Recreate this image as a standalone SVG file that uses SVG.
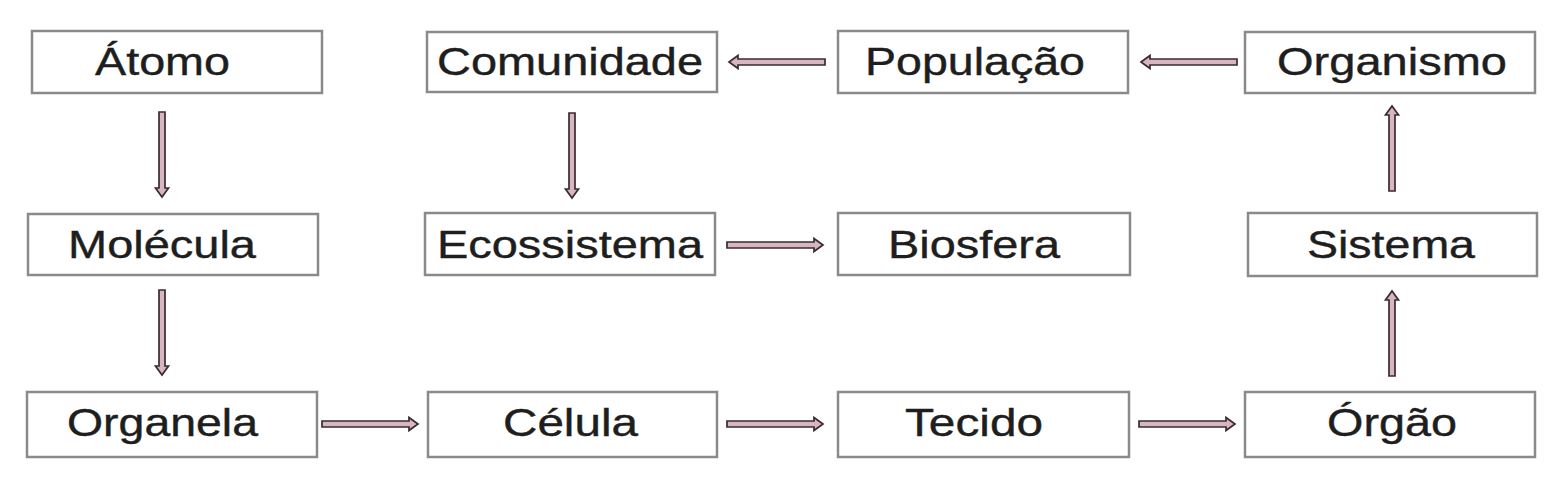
<svg xmlns="http://www.w3.org/2000/svg" xmlns:xlink="http://www.w3.org/1999/xlink" width="1563" height="486" viewBox="0 0 1563 486">
<style>
.box{fill:#ffffff;stroke:#8a8a8a;stroke-width:2.5}
.lbl{font-family:"Liberation Sans",Arial,sans-serif;font-size:38px;fill:#1e1e1e;stroke:#1e1e1e;stroke-width:0.4}
.arr{fill:#d8b6c0;stroke:#3a2b31;stroke-width:1.7;stroke-linejoin:miter}
</style>
<defs>
<path id="ha" d="M0,-3 L87,-3 L87,-6.5 L96,0 L87,6.5 L87,3 L0,3 Z"/>
<path id="va" d="M0,-3 L76,-3 L76,-6.5 L85,0 L76,6.5 L76,3 L0,3 Z"/>
</defs>
<rect width="1563" height="486" fill="#ffffff"/>
<g id="atomo"><rect class="box" x="32" y="31" width="290" height="62"/><text class="lbl" x="95" y="75" textLength="135" lengthAdjust="spacingAndGlyphs">Átomo</text></g>
<g id="molecula"><rect class="box" x="28" y="214" width="290" height="61"/><text class="lbl" x="68" y="258" textLength="188" lengthAdjust="spacingAndGlyphs">Molécula</text></g>
<g id="organela"><rect class="box" x="27" y="392" width="290" height="65"/><text class="lbl" x="67" y="436" textLength="191" lengthAdjust="spacingAndGlyphs">Organela</text></g>
<g id="comunidade"><rect class="box" x="427" y="32" width="290" height="60"/><text class="lbl" x="437" y="75" textLength="266" lengthAdjust="spacingAndGlyphs">Comunidade</text></g>
<g id="ecossistema"><rect class="box" x="425" y="213" width="290" height="62"/><text class="lbl" x="437" y="258" textLength="266" lengthAdjust="spacingAndGlyphs">Ecossistema</text></g>
<g id="celula"><rect class="box" x="428" y="392" width="289" height="65"/><text class="lbl" x="503" y="436" textLength="135" lengthAdjust="spacingAndGlyphs">Célula</text></g>
<g id="populacao"><rect class="box" x="838" y="31" width="290" height="62"/><text class="lbl" x="865" y="75" textLength="220" lengthAdjust="spacingAndGlyphs">População</text></g>
<g id="biosfera"><rect class="box" x="838" y="213" width="292" height="62"/><text class="lbl" x="888" y="258" textLength="172" lengthAdjust="spacingAndGlyphs">Biosfera</text></g>
<g id="tecido"><rect class="box" x="838" y="392" width="291" height="65"/><text class="lbl" x="905" y="436" textLength="138" lengthAdjust="spacingAndGlyphs">Tecido</text></g>
<g id="organismo"><rect class="box" x="1245" y="32" width="290" height="61"/><text class="lbl" x="1277" y="75" textLength="230" lengthAdjust="spacingAndGlyphs">Organismo</text></g>
<g id="sistema"><rect class="box" x="1248" y="213" width="289" height="63"/><text class="lbl" x="1307" y="258" textLength="168" lengthAdjust="spacingAndGlyphs">Sistema</text></g>
<g id="orgao"><rect class="box" x="1245" y="392" width="290" height="65"/><text class="lbl" x="1327" y="436" textLength="130" lengthAdjust="spacingAndGlyphs">Órgão</text></g>
<g id="connectors">
<use xlink:href="#va" class="arr" transform="translate(162,112) rotate(90)"/>
<use xlink:href="#va" class="arr" transform="translate(162,290) rotate(90)"/>
<use xlink:href="#ha" class="arr" transform="translate(322,424)"/>
<use xlink:href="#ha" class="arr" transform="translate(727,424)"/>
<use xlink:href="#ha" class="arr" transform="translate(1139,424)"/>
<use xlink:href="#va" class="arr" transform="translate(1392,376) rotate(-90)"/>
<use xlink:href="#va" class="arr" transform="translate(1392,191) rotate(-90)"/>
<use xlink:href="#ha" class="arr" transform="translate(1237,62) rotate(180)"/>
<use xlink:href="#ha" class="arr" transform="translate(825,62) rotate(180)"/>
<use xlink:href="#va" class="arr" transform="translate(572,113) rotate(90)"/>
<use xlink:href="#ha" class="arr" transform="translate(727,245)"/>
</g>
</svg>
